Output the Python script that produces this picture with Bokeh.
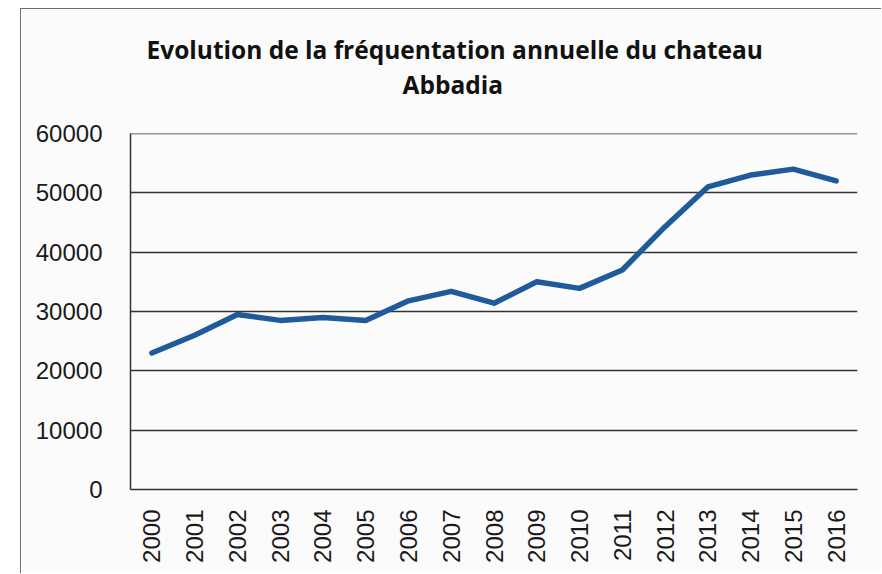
from bokeh.plotting import figure
from bokeh.models import FactorRange, Range1d, FixedTicker, Title, Span
from bokeh.embed import file_html
from bokeh.resources import INLINE

years = ["2000", "2001", "2002", "2003", "2004", "2005", "2006", "2007", "2008",
         "2009", "2010", "2011", "2012", "2013", "2014", "2015", "2016"]
visitors = [23000, 26000, 29500, 28500, 29000, 28500, 31800, 33400, 31400,
            35000, 33900, 37000, 44300, 51000, 53000, 54000, 52000]
y_ticks = [0, 10000, 20000, 30000, 40000, 50000, 60000]
title_lines = ["Evolution de la fréquentation annuelle du chateau", "Abbadia"]

W, H = 861, 565
p = figure(width=W, height=H, x_range=FactorRange(*years), y_range=Range1d(0, 60000),
           output_backend="svg", toolbar_location=None, title=None,
           min_border_left=109, min_border_right=25, min_border_top=124, min_border_bottom=85)
p.styles = {"margin-left": "20px", "margin-top": "8px",
            "border-left": "1px solid #6e6e6e", "border-top": "1px solid #6e6e6e"}
p.background_fill_color = "#fbfbfb"
p.border_fill_color = "#fbfbfb"
p.outline_line_color = None

p.line(years, visitors, line_color="#1F5A9A", line_width=5.5, line_join="round", line_cap="round")

p.yaxis.ticker = FixedTicker(ticks=y_ticks)
p.xgrid.grid_line_color = None
p.ygrid.grid_line_color = "#333333"
p.ygrid.grid_line_width = 1.5
p.add_layout(Span(location=y_ticks[-1], dimension="width", line_color="#333333", line_width=1.5))
for ax in (p.xaxis[0], p.yaxis[0]):
    ax.axis_line_color = "#333333"
    ax.axis_line_width = 1.5
    ax.major_tick_line_color = None
    ax.minor_tick_line_color = None
    ax.major_label_text_font = "Liberation Sans"
    ax.major_label_text_font_size = "24px"
    ax.major_label_text_color = "#1a1a1a"
p.yaxis.major_label_standoff = 22
p.xaxis.major_label_orientation = 1.5708
p.xaxis.major_label_standoff = 14

title_style = dict(align="left", text_font="Open Sans", text_font_style="bold",
                   text_font_size="24.5px", text_color="#111111")
try:
    t_outer = Title(text=title_lines[0], offset=16, standoff=-64, **title_style)
    so_inner = 65
except ValueError:
    t_outer = Title(text=title_lines[0], offset=16, standoff=0, **title_style)
    so_inner = 34
t_inner = Title(text=title_lines[1], offset=272, standoff=so_inner, **title_style)
# first added sits closest to the frame
p.add_layout(t_inner, "above")
p.add_layout(t_outer, "above")

open("out.html", "w").write(file_html(p, INLINE))
